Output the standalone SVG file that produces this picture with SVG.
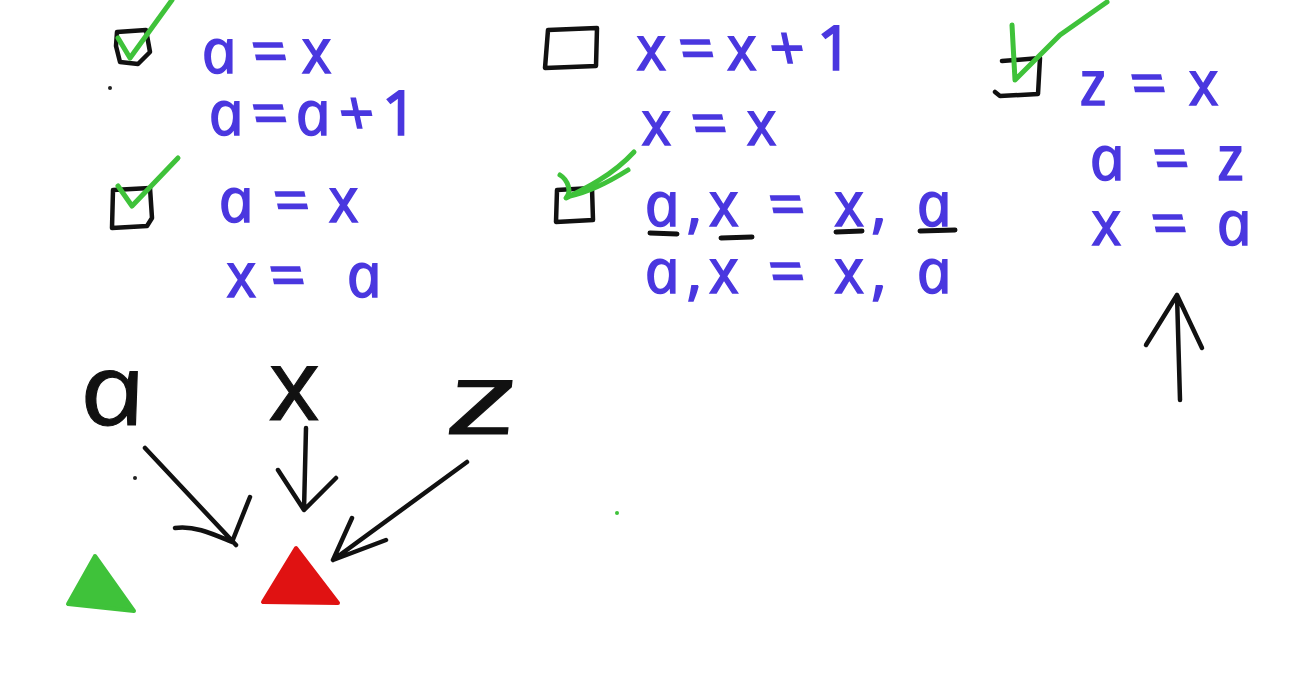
<svg xmlns="http://www.w3.org/2000/svg" width="1297" height="676" viewBox="0 0 1297 676">
<style>
.bg{fill:#ffffff}
.eq{font-family:"Open Sans","Noto Sans",sans-serif;font-style:italic;font-size:62px;fill:#4a37df;stroke:#4a37df;stroke-width:1.5}
.big{font-family:"Open Sans","Noto Sans",sans-serif;font-style:italic;font-size:100px;fill:#111;stroke:#111;stroke-width:1}
.box{fill:none;stroke:#111;stroke-width:4.5;stroke-linejoin:round;stroke-linecap:round}
.chk{fill:none;stroke:#3fc23a;stroke-width:5;stroke-linecap:round;stroke-linejoin:round}
.ul{fill:none;stroke:#111;stroke-width:5;stroke-linecap:round}
.arr{fill:none;stroke:#111;stroke-width:4.5;stroke-linecap:round;stroke-linejoin:round}
</style>
<rect class="bg" width="1297" height="676"/>

<g id="item1">
<path class="box" d="M117,32 L146,30 L150,52 L138,64 L120,62 L116,46 Z"/>
<path class="chk" d="M118,38 L130,58 L172,0"/>
<text class="eq" transform="translate(205,73) skewX(12)" textLength="130" lengthAdjust="spacing">a=x</text>
<text class="eq" transform="translate(212,135) skewX(12)" textLength="208" lengthAdjust="spacing">a=a+1</text>
</g>

<g id="item2">
<path class="box" d="M113,190 L150,188 L152,218 L147,226 L112,228 Z"/>
<path class="chk" d="M118,186 L132,206 L178,158"/>
<text class="eq" transform="translate(222,222) skewX(12)" textLength="140" lengthAdjust="spacing">a = x</text>
<text class="eq" transform="translate(230,297) skewX(12)" textLength="155" lengthAdjust="spacing">x= a</text>
</g>

<g id="item3">
<path class="box" d="M548,30 L597,28 L596,66 L545,68 Z"/>
<text class="eq" transform="translate(640,70) skewX(12)" textLength="215" lengthAdjust="spacing">x=x+1</text>
<text class="eq" transform="translate(645,145) skewX(12)" textLength="135" lengthAdjust="spacing">x=x</text>
</g>

<g id="item4">
<path class="box" d="M557,190 L592,188 L593,220 L556,222 Z"/>
<path class="chk" d="M560,175 C568,180 572,192 566,198 C578,192 610,178 634,152 M570,196 C590,192 612,180 628,170"/>
<text class="eq" transform="translate(648,226) skewX(12)" textLength="307" lengthAdjust="spacing">a,x = x, a</text>
<path class="ul" d="M650,233 L677,234 M721,238 L752,237 M836,232 L862,231 M920,231 L955,230"/>
<text class="eq" transform="translate(648,293) skewX(12)" textLength="307" lengthAdjust="spacing">a,x = x, a</text>
</g>

<g id="item5">
<path class="box" d="M1002,61 L1040,58 L1038,94 L1000,96 L995,92"/>
<path class="chk" d="M1012,25 L1015,80 L1060,35 L1107,2"/>
<text class="eq" transform="translate(1083,105) skewX(12)" textLength="139" lengthAdjust="spacing">z = x</text>
<text class="eq" transform="translate(1093,180) skewX(12)" textLength="155" lengthAdjust="spacing">a = z</text>
<text class="eq" transform="translate(1095,245) skewX(12)" textLength="160" lengthAdjust="spacing">x = a</text>
</g>

<g id="var_a"><text class="big" transform="translate(85,425) skewX(12)" textLength="66" lengthAdjust="spacingAndGlyphs">a</text></g>
<g id="var_x"><text class="big" transform="translate(274,420) skewX(12)" textLength="52" lengthAdjust="spacingAndGlyphs">x</text></g>
<g id="var_z"><text class="big" transform="translate(452,434) skewX(12)" textLength="72" lengthAdjust="spacingAndGlyphs">z</text></g>

<g id="tri_green"><path d="M95,556 L68,604 L134,611 Z" fill="#3fc23a" stroke="#3fc23a" stroke-width="4" stroke-linejoin="round"/></g>
<g id="tri_red"><path d="M296,548 L263,602 L338,603 Z" fill="#e01212" stroke="#e01212" stroke-width="4" stroke-linejoin="round"/></g>

<g id="connectors">
<path class="arr" d="M145,448 L236,545 M175,528 C195,525 215,535 232,542 L250,497"/>
<path class="arr" d="M306,428 L304,510 M278,470 L304,510 L336,478"/>
<path class="arr" d="M467,462 L333,560 M352,518 L333,560 L386,540"/>
<path class="arr" d="M1180,400 L1177,295 M1146,345 L1177,295 L1202,348"/>
</g>
<circle cx="135" cy="478" r="2" fill="#222"/>
<circle cx="110" cy="88" r="2" fill="#222"/>
<circle cx="617" cy="513" r="2" fill="#3fc23a"/>
</svg>
